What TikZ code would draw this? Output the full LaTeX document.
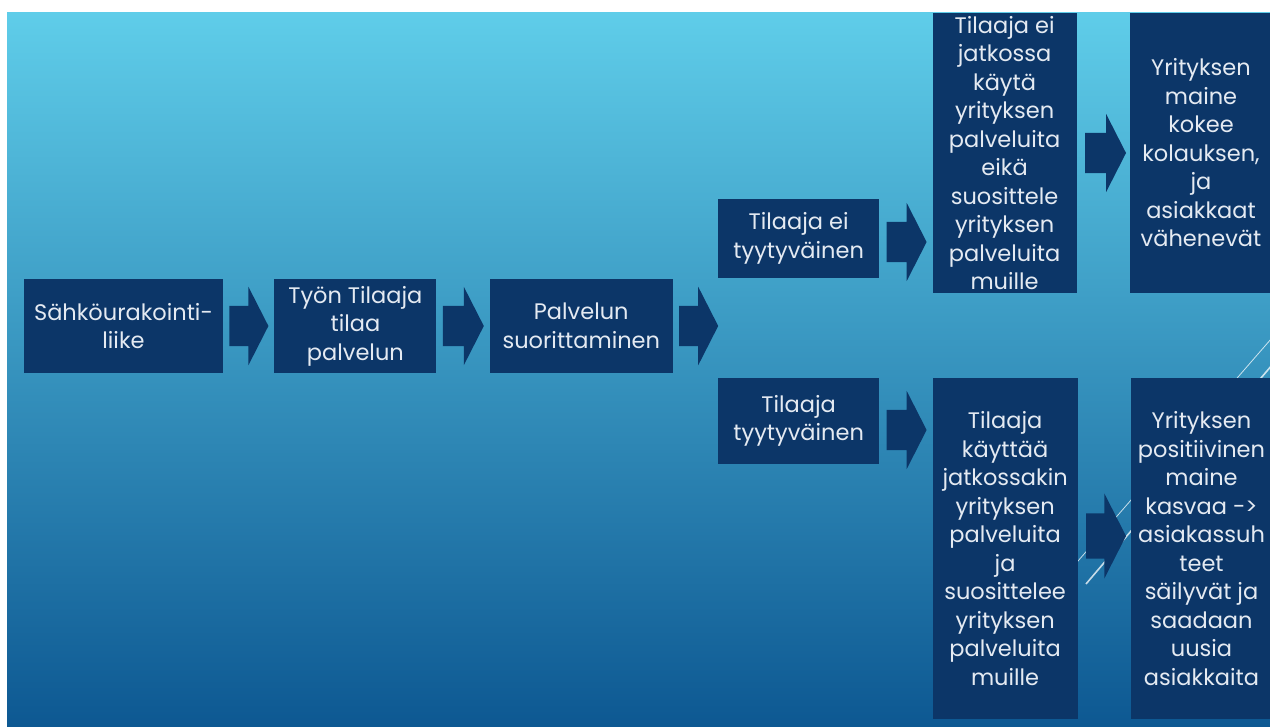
\documentclass[tikz,border=0pt]{standalone}
\usepackage{fontspec}
\setmainfont{Poppins}
\usetikzlibrary{positioning}
\usetikzlibrary{shapes.arrows}

\definecolor{bgtop}{RGB}{95,205,233}
\definecolor{bgbot}{RGB}{13,88,146}
\definecolor{boxblue}{RGB}{12,54,104}
\definecolor{boxtext}{RGB}{228,234,242}

\begin{document}
\begin{tikzpicture}[x = 1pt, y = -1pt]
  \tikzstyle{stage}=[rectangle, fill = boxblue, text = boxtext, align = center, inner sep = 0pt, font = \fontsize{22.5}{28.5}\selectfont]
  \tikzstyle{flow}=[single arrow, fill = boxblue, minimum height = 40pt, inner xsep = 0pt, inner ysep = 20pt, single arrow head extend = 19pt, single arrow tip angle = 126]
  \tikzstyle{gleam}=[draw = white, opacity = 0.75]

  \useasboundingbox (0,0) rectangle (1270,727);
  \begin{scope}
    \clip (7,13) rectangle (1270,727);
    \fill[top color = bgtop, bottom color = bgbot] (7,13) rectangle (1270,727);
    \draw[gleam, line width = 0.8pt] (1058,584) -- (1278,331);
    \draw[gleam, line width = 1.6pt] (1086,584) -- (1278,358);

    % main chain
    \node[stage, minimum width = 199pt, minimum height = 94pt] (s1) at (123.5,326) {Sähköurakointi-\\liike};
    \node[stage, minimum width = 162pt, minimum height = 94pt] (s2) [right = 51pt of s1] {Työn Tilaaja\\tilaa\\palvelun};
    \node[stage, minimum width = 183pt, minimum height = 94pt] (s3) [right = 53pt of s2] {Palvelun\\suorittaminen};

    % not satisfied
    \node[stage, minimum width = 161pt, minimum height = 79pt] (s4) [right = 45pt of s3, yshift = 87.5pt] {Tilaaja ei\\tyytyväinen};
    \node[stage, minimum width = 144pt, minimum height = 280pt] (s5) [right = 53pt of s4, yshift = 85.5pt] {Tilaaja ei\\jatkossa\\käytä\\yrityksen\\palveluita\\eikä\\suosittele\\yrityksen\\palveluita\\muille};
    \node[stage, minimum width = 142pt, minimum height = 280pt] (s6) [right = 53pt of s5] {Yrityksen\\maine\\kokee\\kolauksen,\\ja\\asiakkaat\\vähenevät};

    % satisfied
    \node[stage, minimum width = 161pt, minimum height = 86pt] (s7) [right = 45pt of s3, yshift = -95pt] {Tilaaja\\tyytyväinen};
    \node[stage, minimum width = 145pt, minimum height = 341pt] (s8) [right = 53pt of s7, yshift = -127.5pt] {Tilaaja\\käyttää\\jatkossakin\\yrityksen\\palveluita\\ja\\suosittelee\\yrityksen\\palveluita\\muille};
    \node[stage, minimum width = 141pt, minimum height = 341pt] (s9) [right = 53pt of s8] {Yrityksen\\positiivinen\\maine\\kasvaa ->\\asiakassuh\\teet\\säilyvät ja\\saadaan\\uusia\\asiakkaita};

    % arrows
    \node[flow, minimum height = 39pt] (a1) [right = 6pt of s1] {};
    \node[flow, minimum height = 41pt] (a2) [right = 6pt of s2] {};
    \node[flow, minimum height = 39pt] (a3) [right = 6pt of s3] {};
    \node[flow] (a4) [right = 7pt of s4, yshift = -3.5pt] {};
    \node[flow, minimum height = 41pt] (a5) [right = 8pt of s5] {};
    \node[flow] (a7) [right = 7pt of s7, yshift = -9pt] {};
    \node[flow, inner ysep = 22.5pt, single arrow head extend = 20pt] (a8) [right = 8pt of s8, yshift = 12.5pt] {};
  \end{scope}
\end{tikzpicture}
\end{document}
